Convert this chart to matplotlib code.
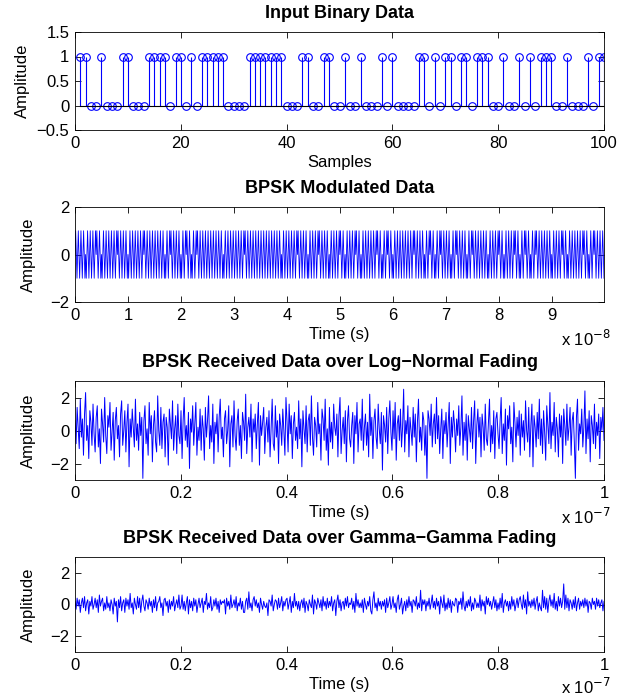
import numpy as np
import matplotlib.pyplot as plt

plt.rcParams['font.family'] = ['Liberation Sans', 'DejaVu Sans']
plt.rcParams['font.size'] = 12

# input bits, samples 1..100
bits = [1, 1, 0, 0, 1, 0, 0, 0, 1, 1,
        0, 0, 0, 1, 1, 1, 1, 0, 1, 1,
        0, 1, 0, 1, 1, 1, 1, 1, 0, 0,
        0, 0, 1, 1, 1, 1, 1, 1, 1, 0,
        0, 0, 1, 1, 0, 0, 1, 1, 0, 0,
        1, 0, 0, 1, 0, 0, 0, 1, 0, 1,
        0, 0, 0, 0, 1, 1, 0, 1, 0, 1,
        1, 0, 1, 1, 0, 1, 1, 1, 0, 0,
        1, 0, 0, 1, 0, 1, 0, 1, 1, 1,
        0, 0, 1, 0, 0, 0, 1, 0, 1, 1]

# one bit period of the carrier as seen in the modulated trace
carrier_period = [0, 1, 0, -1, 0, 1, 0, -1]
bit_time = 1e-9

# received traces
rx_lognormal = [
    0.6, -0.8, 1.4, 0.2, -1.1, 1.9, -0.4, 0.7, -1.5, 1.0,
    2.3, -0.6, 0.3, -1.7, 1.2, 0.5, -0.9, 1.6, -0.2, -1.3,
    0.8, 1.5, -1.0, 0.1, -2.0, 1.3, 0.4, -0.7, 2.0, -0.3,
    -1.4, 0.9, 0.2, 1.7, -1.2, -0.1, 1.1, -1.8, 0.6, 1.4,
    -0.5, 0.3, -1.6, 1.0, 1.8, -0.9, 0.0, 1.2, -1.3, 0.5,
    1.6, -2.2, 0.7, -0.4, 1.3, 0.2, -1.0, 1.9, -0.6, 0.4,
    -1.2, 1.1, -0.3, 0.8, -2.9, 0.6, 1.5, -0.8, 0.1, -1.5,
    1.7, -0.2, 0.9, -1.9, 0.3, 1.2, -0.7, -1.3, 2.1, 0.0,
    -0.9, 1.4, -1.1, 0.5, 1.0, -1.6, 0.8, 0.2, -2.1, 1.3,
    0.4, -0.5, 1.8, -1.2, 0.1, 0.9, -1.4, 1.6, -0.3, -0.8,
    1.2, -1.7, 0.6, 2.0, -0.6, 0.3, -1.0, 1.1, -2.3, 0.7,
    -0.1, 1.5, -0.9, 0.4, 1.7, -1.5, 0.2, -0.6, 1.3, -1.2,
    0.9, 0.1, -1.8, 1.4, -0.4, 0.6, 2.1, -1.1, 0.3, -0.7,
    1.6, -2.0, 0.5, -0.2, 1.0, -1.3, 0.8, 1.9, -0.5, 0.2,
    -1.6, 0.7, 1.2, -0.8, 0.0, 1.5, -2.2, 0.4, 0.9, -1.0,
    1.8, -0.3, -1.2, 0.6, 1.3, -0.9, 0.3, -1.7, 1.1, 0.5,
    -0.6, 2.2, -1.4, 0.2, 0.8, -0.4, 1.6, -1.9, 0.7, -0.1,
    1.0, -1.1, 0.4, 1.7, -2.1, 0.9, -0.3, 0.5, 1.4, -1.4,
    0.2, 0.8, -0.7, 1.2, -1.6, 0.1, 1.9, -0.8, -1.2, 1.5,
    -0.4, 0.6, -2.0, 1.0, 0.3, -0.9, 1.3, 0.0, -1.5, 2.0,
    0.5, -1.3, 1.6, -0.2, 0.9, -1.7, 0.4, 1.1, -0.6, 0.2,
    -1.1, 1.8, -0.5, 0.7, -2.2, 1.2, 0.1, -0.8, 1.5, -1.3,
    0.6, 1.0, -0.9, 2.1, -0.4, -1.5, 0.8, 0.3, -1.0, 1.7,
    -0.2, 0.4, -1.8, 1.3, 0.7, -0.6, 1.9, -1.2, 0.1, -2.1,
    1.4, -0.7, 0.5, -1.1, 1.6, 0.2, -0.3, 1.0, -1.6, 0.9,
    2.0, -1.4, 0.0, 0.8, -0.8, 1.2, -1.9, 0.6, 1.5, -0.5,
    -1.0, 0.3, 1.1, -2.0, 0.9, -0.2, 1.7, -1.3, 0.4, 0.7,
    -0.6, 1.9, -1.2, 0.2, 1.0, -0.9, 0.5, -1.6, 2.2, -0.3,
    0.8, -1.7, 0.6, 1.3, -0.4, -1.1, 1.6, 0.1, -0.8, 1.1,
    -2.4, 0.9, 0.3, -0.7, 1.4, -1.4, 0.7, 1.8, -0.1, -1.2,
    1.2, -0.5, 1.7, -1.8, 0.4, 0.9, -0.6, 1.3, -1.0, 0.2,
    2.5, -1.3, 0.6, -0.2, 1.5, -1.6, 0.8, 0.0, -0.9, 1.4,
    -0.4, 1.0, -1.9, 0.5, 1.9, -0.7, 0.2, -1.2, 1.1, 0.6,
    -1.5, 0.3, -2.9, 1.2, 0.7, -0.3, 1.6, -1.0, 0.4, 1.0,
    -0.8, 2.0, -0.5, 0.9, -1.4, 0.1, 1.3, -1.7, 0.6, -0.2,
    1.1, -1.0, 0.4, 1.7, -2.0, 0.8, -0.4, 1.2, 0.3, -1.3,
    0.7, -0.3, 1.5, -0.9, 0.2, 2.1, -1.5, 0.5, -0.6, 1.0,
    -1.8, 0.9, 0.1, -0.7, 1.4, -1.1, 0.6, 1.8, -2.0, 0.3,
    1.3, -0.4, 0.8, -1.6, 1.0, 0.2, -1.2, 1.6, -0.5, -0.9,
    0.5, 1.9, -1.3, 0.3, -0.8, 1.2, -1.7, 0.7, 1.1, -0.2,
    -1.1, 0.6, 2.0, -1.4, 0.4, -0.6, 1.3, -2.1, 0.9, 0.1,
    1.5, -0.8, 0.2, -1.9, 1.7, 0.5, -1.0, 0.8, -0.3, 1.2,
    -1.5, 1.0, -0.4, 0.6, -1.2, 1.8, 0.0, -0.7, 1.4, -1.6,
    0.3, 1.6, -2.2, 0.9, 0.2, -1.0, 1.1, -0.5, 1.9, -0.9,
    0.7, -1.4, 1.2, -0.1, -1.8, 1.5, 0.4, -0.8, 2.3, -1.1,
    0.5, -0.3, 1.7, -1.3, 0.8, 0.1, -1.6, 1.0, -0.4, 0.9,
    -2.0, 1.3, 0.3, -0.9, 1.6, -0.6, 0.2, 1.4, -1.5, 0.6,
    1.1, -0.7, -2.9, 0.8, 1.9, -1.2, 0.4, -0.2, 1.3, -1.0,
    0.2, 2.4, -1.4, 0.7, -0.5, 1.2, -1.9, 0.9, 0.3, -0.8,
    1.6, -1.1, 0.5, -0.3, 1.0, -1.7, 0.8, 0.0, 1.4, -0.6]

rx_gammagamma = [
    0.2, -0.3, 0.4, -0.1, 0.3, -0.5, 0.1, 0.4, -0.2, 0.5,
    -0.4, 0.1, 0.3, -0.6, 0.2, -0.1, 0.5, -0.3, 0.0, 0.4,
    -0.2, 0.3, -0.5, 0.6, -0.1, 0.2, 0.4, -0.4, 0.1, -0.3,
    0.5, -0.2, 0.1, -0.4, 0.3, 0.0, -0.6, 0.4, -0.1, 0.2,
    -1.1, 0.3, -0.2, 0.5, -0.4, 0.1, 0.3, -0.5, 0.4, -0.1,
    0.3, -0.3, 0.7, -0.2, 0.1, -0.6, 0.4, 0.0, -0.3, 0.5,
    -0.2, 0.4, -0.5, 0.2, 0.6, -0.1, -0.4, 0.3, 0.1, -0.3,
    0.4, -0.1, 0.2, -0.5, 0.3, -0.2, 0.5, -0.4, 0.1, 0.2,
    0.5, -0.2, 0.1, -0.7, 0.3, 0.4, -0.1, 0.2, -0.5, 0.3,
    -0.3, 0.2, -0.1, 0.5, -0.4, 0.0, 0.3, -0.2, 0.6, -0.3,
    -0.1, 0.6, -0.3, 0.2, -0.4, 0.1, 0.5, -0.6, 0.3, -0.2,
    0.2, -0.4, 0.4, -0.1, 0.3, -0.5, 0.0, 0.4, -0.2, 0.1,
    0.4, -0.5, 0.2, 0.0, 0.7, -0.3, 0.1, -0.2, 0.5, -0.4,
    -0.2, 0.3, -0.1, 0.4, -0.3, 0.2, -0.5, 0.3, 0.0, 0.2,
    0.1, 0.3, -0.6, 0.4, -0.1, 0.2, -0.3, 0.6, -0.2, 0.0,
    0.3, -0.2, 0.5, -0.4, 0.1, -0.1, 0.4, -0.3, 0.2, -0.5,
    -0.5, 0.2, 0.4, -0.3, 0.8, -0.2, 0.1, -0.4, 0.3, 0.5,
    -0.1, 0.3, -0.2, 0.1, -0.5, 0.4, 0.0, -0.3, 0.2, -0.1,
    -0.2, 0.1, -0.7, 0.3, 0.2, -0.1, 0.6, -0.4, 0.0, 0.3,
    0.2, -0.3, 0.4, -0.2, 0.1, 0.5, -0.4, 0.2, -0.1, 0.3,
    0.4, -0.3, 0.1, 0.5, -0.5, 0.2, -0.2, 0.7, -0.1, 0.2,
    -0.3, 0.2, -0.4, 0.1, 0.3, -0.2, 0.4, -0.5, 0.2, 0.0,
    -0.4, 0.3, 0.0, -0.2, 0.6, -0.6, 0.3, 0.1, -0.3, 0.4,
    0.1, -0.2, 0.3, -0.4, 0.5, -0.1, 0.2, -0.3, 0.4, -0.2,
    0.2, -0.1, 0.5, -0.4, 0.1, 0.3, -0.7, 0.2, 0.6, -0.2,
    0.3, -0.4, 0.1, 0.2, -0.3, 0.4, -0.1, 0.5, -0.2, 0.1,
    0.0, 0.4, -0.3, 0.2, -0.5, 0.7, -0.1, 0.3, -0.2, 0.1,
    -0.2, 0.3, -0.5, 0.4, 0.0, -0.3, 0.2, -0.1, 0.5, -0.4,
    -0.6, 0.3, 0.8, -0.2, 0.1, -0.4, 0.4, -0.1, 0.2, -0.3,
    0.2, -0.1, 0.3, -0.5, 0.4, -0.2, 0.1, 0.5, -0.3, 0.0,
    0.5, -0.2, 0.1, -0.5, 0.3, 0.6, -0.3, 0.0, 0.4, -0.6,
    -0.1, 0.2, -0.4, 0.3, -0.2, 0.5, -0.1, 0.2, -0.5, 0.3,
    0.2, -0.1, 0.5, -0.3, 0.1, -0.2, 0.9, -0.4, 0.3, 0.0,
    0.3, -0.4, 0.2, -0.1, 0.4, -0.3, 0.1, 0.6, -0.2, 0.2,
    -0.3, 0.4, -0.1, 0.2, -0.6, 0.5, 0.1, -0.2, 0.6, -0.4,
    0.1, -0.3, 0.4, -0.2, 0.3, -0.5, 0.2, 0.0, -0.1, 0.4,
    0.3, -0.5, 0.2, 0.0, 0.4, -0.3, 0.8, -0.1, -0.4, 0.2,
    -0.2, 0.3, -0.1, 0.5, -0.4, 0.1, -0.3, 0.4, 0.2, -0.2,
    0.1, -0.2, 0.6, -0.4, 0.3, -0.1, 0.2, -0.6, 0.5, 0.0,
    0.4, -0.1, 0.2, -0.3, 0.1, 0.5, -0.2, 0.3, -0.4, 0.1,
    -0.3, 0.4, -0.2, 0.7, -0.5, 0.1, 0.3, -0.1, 0.2, -0.4,
    0.2, -0.3, 0.5, -0.1, 0.3, -0.4, 0.0, 0.4, -0.2, 0.3,
    0.5, 0.0, -0.3, 0.6, -0.2, 0.3, -0.6, 0.8, -0.1, 0.2,
    -0.2, 0.3, -0.1, 0.4, -0.3, 0.2, 0.5, -0.4, 0.1, -0.2,
    -0.4, 0.9, -0.2, 0.5, -0.3, 0.4, -0.5, 0.2, 0.6, -0.1,
    0.3, -0.2, 0.7, -0.3, 0.2, -0.4, 0.5, -0.1, 0.4, -0.2,
    0.2, 1.3, -0.3, 0.6, -0.2, 0.4, -0.4, 0.3, 0.1, -0.3,
    0.3, -0.2, 0.5, -0.4, 0.1, 0.4, -0.3, 0.2, -0.1, 0.3,
    -0.2, 0.4, -0.1, 0.3, -0.5, 0.2, 0.1, -0.3, 0.4, 0.0,
    0.2, -0.3, 0.4, -0.1, 0.3, -0.2, 0.1, 0.3, -0.4, 0.2]

blue = (0, 0, 1)
W, H = 633, 697
fig = plt.figure(figsize=(W / 100, H / 100), dpi=100)


def make_ax(top_px, bot_px, ylab_x):
    ax = fig.add_axes([75 / W, 1 - bot_px / H, 529 / W, (bot_px - top_px) / H])
    ax.tick_params(direction='in', top=True, right=True, length=4, width=0.6,
                   labelsize=12, pad=4)
    for s in ax.spines.values():
        s.set_linewidth(0.6)
    ax.set_ylabel('Amplitude')
    ax.yaxis.set_label_coords((ylab_x - 75) / 529, 0.5)
    return ax


# panel 1: stem of input bits
ax1 = make_ax(32, 130, 30)
n = np.arange(1, len(bits) + 1)
ml, sl, bl = ax1.stem(n, bits, basefmt='k-')
plt.setp(ml, marker='o', markersize=5.5, markerfacecolor='none',
         markeredgecolor=blue, markeredgewidth=0.8)
plt.setp(sl, color=blue, linewidth=0.8)
plt.setp(bl, color='k', linewidth=0.8)
ax1.set_xlim(0, 100)
ax1.set_ylim(-0.5, 1.5)
ax1.set_xticks(np.arange(0, 101, 20))
ax1.set_yticks([-0.5, 0, 0.5, 1, 1.5])
ax1.set_yticklabels(['\u22120.5', '0', '0.5', '1', '1.5'])
ax1.set_title('Input Binary Data', fontweight='bold', fontsize=13, pad=10)
ax1.set_xlabel('Samples', labelpad=3)

# panel 2: BPSK modulated signal
ax2 = make_ax(207, 302, 36)
sym = 2 * np.array(bits) - 1
mod = np.concatenate([b * np.array(carrier_period) for b in sym])
t_mod = np.arange(len(mod)) * bit_time / len(carrier_period)
ax2.plot(t_mod, mod, color=blue, linewidth=0.6)
ax2.set_xlim(0, t_mod[-1])
ax2.set_ylim(-2, 2)
ax2.set_yticks([-2, 0, 2])
ax2.set_yticklabels(['\u22122', '0', '2'])
ax2.set_xticks(np.arange(0, 10) * 1e-8)
ax2.set_xticklabels([str(k) for k in range(10)])
ax2.set_title('BPSK Modulated Data', fontweight='bold', fontsize=13, pad=10)
ax2.set_xlabel('Time (s)', labelpad=3)
fig.text(561 / W, 1 - 346 / H, 'x 10$^{\u22128}$', fontsize=12, ha='left')

# panels 3 and 4: received data
panels = [(rx_lognormal, 381, 480, 'BPSK Received Data over Log\u2212Normal Fading', 524),
          (rx_gammagamma, 557, 652, 'BPSK Received Data over Gamma\u2212Gamma Fading', 694)]
for rx, top, bot, title, off_y in panels:
    ax = make_ax(top, bot, 36)
    t_rx = np.linspace(0, 1e-7, len(rx))
    ax.plot(t_rx, rx, color=blue, linewidth=0.7)
    ax.set_xlim(0, 1e-7)
    ax.set_ylim(-3, 3)
    ax.set_yticks([-2, 0, 2])
    ax.set_yticklabels(['\u22122', '0', '2'])
    ax.set_xticks(np.arange(0, 1.01, 0.2) * 1e-7)
    ax.set_xticklabels(['0', '0.2', '0.4', '0.6', '0.8', '1'])
    ax.set_title(title, fontweight='bold', fontsize=13, pad=10)
    ax.set_xlabel('Time (s)', labelpad=3)
    fig.text(561 / W, 1 - off_y / H, 'x 10$^{\u22127}$', fontsize=12, ha='left')

fig.savefig('out.png', dpi=100)
